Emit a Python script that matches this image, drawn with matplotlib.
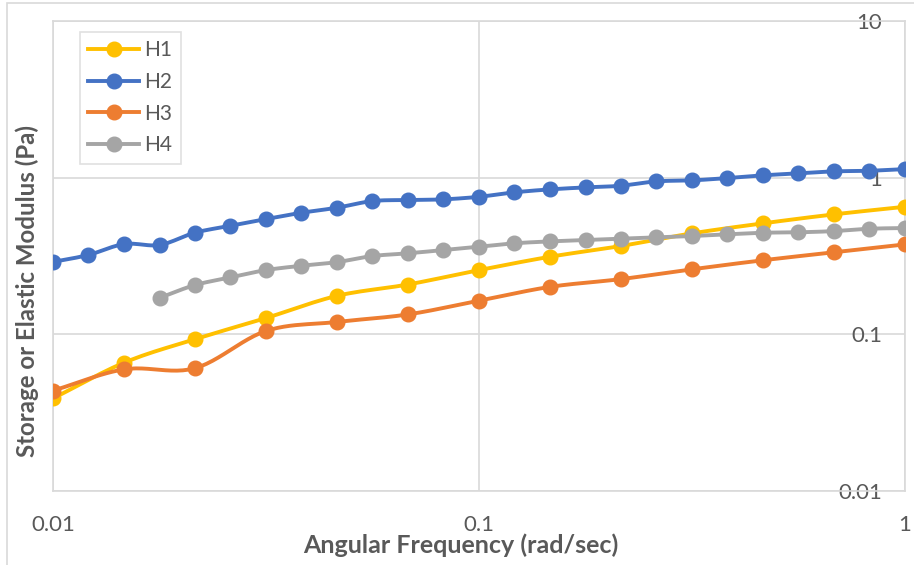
import numpy as np
import matplotlib
matplotlib.use("Agg")
import matplotlib.pyplot as plt
from matplotlib.patches import Rectangle
from matplotlib.ticker import FixedLocator, NullLocator

# angular frequency (rad/sec)
freq_full = [0.01, 0.0121, 0.0147, 0.0178, 0.0215, 0.0261, 0.0316, 0.0383, 0.0464,
             0.0562, 0.0681, 0.0825, 0.1, 0.121, 0.147, 0.178, 0.215, 0.261, 0.316,
             0.383, 0.464, 0.562, 0.681, 0.825, 1.0]
freq_half = [0.01, 0.0147, 0.0215, 0.0316, 0.0464, 0.0681, 0.1, 0.147, 0.215,
             0.316, 0.464, 0.681, 1.0]
freq_h4 = freq_full[3:]

h1 = [0.039, 0.066, 0.093, 0.127, 0.176, 0.208, 0.257, 0.313, 0.366, 0.441,
      0.511, 0.583, 0.652]
h2 = [0.290, 0.321, 0.377, 0.372, 0.445, 0.493, 0.544, 0.597, 0.643, 0.709,
      0.720, 0.727, 0.755, 0.806, 0.842, 0.867, 0.888, 0.947, 0.961, 0.994,
      1.035, 1.065, 1.097, 1.107, 1.134]
h3 = [0.0437, 0.0598, 0.0607, 0.105, 0.120, 0.134, 0.164, 0.201, 0.225, 0.260,
      0.297, 0.334, 0.375]
h4 = [0.171, 0.206, 0.231, 0.257, 0.274, 0.289, 0.316, 0.329, 0.345, 0.362,
      0.381, 0.392, 0.400, 0.408, 0.416, 0.424, 0.435, 0.445, 0.448, 0.456,
      0.472, 0.477]

series = [("H1", freq_half, h1, "#FFC000"),
          ("H2", freq_full, h2, "#4472C4"),
          ("H3", freq_half, h3, "#ED7D31"),
          ("H4", freq_h4, h4, "#A5A5A5")]

xticks = [0.01, 0.1, 1]
xticklabels = ["0.01", "0.1", "1"]
yticks = [0.01, 0.1, 1, 10]
yticklabels = ["0.01", "0.1", "1", "10"]

TXT = "#595959"
GRID = "#D9D9D9"
plt.rcParams["font.family"] = ["Lato", "DejaVu Sans"]


def smooth(x, y, n=12):
    # Catmull-Rom through the points in log space (Excel "smoothed line")
    lx, ly = np.log10(x), np.log10(y)
    px = np.concatenate([[2 * lx[0] - lx[1]], lx, [2 * lx[-1] - lx[-2]]])
    py = np.concatenate([[2 * ly[0] - ly[1]], ly, [2 * ly[-1] - ly[-2]]])
    ox, oy = [], []
    t = np.linspace(0, 1, n, endpoint=False)
    for i in range(1, len(px) - 2):
        for arr, out in ((px, ox), (py, oy)):
            p0, p1, p2, p3 = arr[i - 1], arr[i], arr[i + 1], arr[i + 2]
            out.extend(0.5 * (2 * p1 + (-p0 + p2) * t
                              + (2 * p0 - 5 * p1 + 4 * p2 - p3) * t ** 2
                              + (-p0 + 3 * p1 - 3 * p2 + p3) * t ** 3))
    ox.append(lx[-1])
    oy.append(ly[-1])
    return 10 ** np.array(ox), 10 ** np.array(oy)


W, H = 914, 565
fig = plt.figure(figsize=(W / 100, H / 100), dpi=100)
fig.patches.append(Rectangle((7 / W, -0.01), 1.0, 1 - 3 / H + 0.01,
                             transform=fig.transFigure, fill=False,
                             edgecolor=GRID, lw=1.2))
ax = fig.add_axes([53 / W, 1 - 491 / H, 852 / W, 470 / H])

for name, x, y, c in series:
    sx, sy = smooth(x, y)
    ax.plot(sx, sy, color=c, lw=2.8, solid_capstyle="round", zorder=3)
    ax.plot(x, y, "o", color=c, ms=10.5, zorder=4)
    ax.plot([], [], "-o", color=c, lw=2.8, ms=10.5, label=name)

ax.set_xscale("log")
ax.set_yscale("log")
ax.set_xlim(0.01, 1)
ax.set_ylim(0.01, 10)
ax.xaxis.set_major_locator(FixedLocator(xticks))
ax.yaxis.set_major_locator(FixedLocator(yticks))
ax.xaxis.set_minor_locator(NullLocator())
ax.yaxis.set_minor_locator(NullLocator())
ax.set_xticklabels(xticklabels)
ax.set_yticklabels(yticklabels)
ax.grid(True, color=GRID, lw=1.2)
ax.set_axisbelow(True)
for s in ax.spines.values():
    s.set_color(GRID)
    s.set_linewidth(1.2)

ax.tick_params(axis="x", length=0, pad=17, labelsize=16, colors=TXT)
ax.tick_params(axis="y", length=0, left=False, right=False, labelleft=False,
               labelright=True, pad=-16.5, labelsize=16, colors=TXT)
for lbl in ax.get_yticklabels():
    lbl.set_horizontalalignment("right")

fig.text(461 / W, 1 - 545 / H, "Angular Frequency (rad/sec)", ha="center",
         va="center", fontsize=18, fontweight="bold", color=TXT)
fig.text(27 / W, 1 - 291 / H, "Storage or Elastic Modulus (Pa)", ha="center",
         va="center", rotation=90, fontsize=17.3, fontweight="bold", color=TXT)

leg = ax.legend(loc="upper left", bbox_to_anchor=(27 / 852, 1 - 11 / 470),
                fontsize=15, frameon=True, fancybox=False, handlelength=2.45,
                labelspacing=0.56, borderpad=0.4, handletextpad=0.25,
                borderaxespad=0)
leg.get_frame().set_edgecolor(GRID)
leg.get_frame().set_linewidth(1.2)
for t in leg.get_texts():
    t.set_color(TXT)

fig.savefig("out.png", dpi=100)
